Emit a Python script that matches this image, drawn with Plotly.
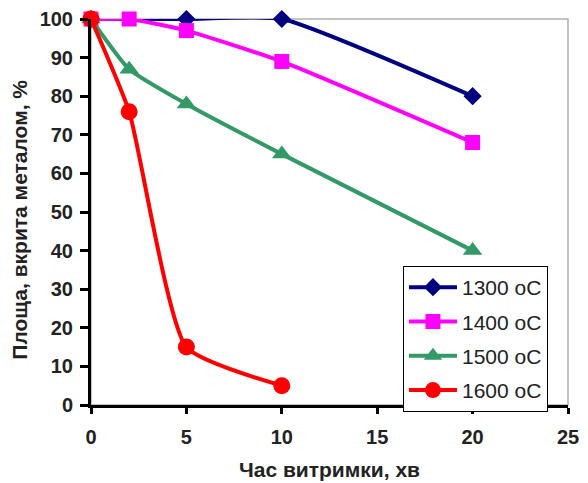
import plotly.graph_objects as go

x1300 = [0, 5, 10, 20]
y1300 = [100, 100, 100, 80]
x1400 = [0, 2, 5, 10, 20]
y1400 = [100, 100, 97, 89, 68]
x1500 = [0, 2, 5, 10, 20]
y1500 = [100, 87, 78, 65, 40]
x1600 = [0, 2, 5, 10]
y1600 = [100, 76, 15, 5]
names = ["1300 oC", "1400 oC", "1500 oC", "1600 oC"]

FONT = "Liberation Sans, Arial, sans-serif"

fig = go.Figure()
specs = [
    (x1300, y1300, names[0], "#000080", "diamond", 14),
    (x1400, y1400, names[1], "#FF00FF", "square", 15),
    (x1500, y1500, names[2], "#339966", "triangle-up", 17),
    (x1600, y1600, names[3], "#FF0000", "circle", 17),
]
for i, (xs, ys, nm, col, sym, sz) in enumerate(specs):
    fig.add_trace(go.Scatter(
        x=xs, y=ys, name=nm, mode="lines+markers", legendgroup=f"g{i}",
        line=dict(color=col, width=4, shape="spline", smoothing=0.5),
        marker=dict(symbol=sym, size=sz, color=col),
        cliponaxis=False,
    ))

fig.update_layout(
    width=588, height=483,
    margin=dict(l=91, r=20, t=19, b=78, autoexpand=False),
    paper_bgcolor="white", plot_bgcolor="white",
    font=dict(family=FONT, color="black"),
    showlegend=True,
    legend=dict(
        x=0.654, y=0.360, xanchor="left", yanchor="top",
        bordercolor="black", borderwidth=1, bgcolor="white",
        font=dict(family=FONT, size=21, color="#222"),
        itemwidth=48, tracegroupgap=4,
    ),
    shapes=[dict(type="rect", xref="paper", yref="paper", x0=0, y0=0, x1=1, y1=1,
                 line=dict(color="#b0b0b0", width=1.5), layer="below")],
)
fig.update_xaxes(
    range=[0, 25], tickvals=[0, 5, 10, 15, 20, 25],
    showgrid=False, zeroline=False, automargin=False,
    showline=True, linecolor="black", linewidth=3,
    ticks="outside", ticklen=6, tickwidth=3, tickcolor="black",
    ticklabelstandoff=6,
    tickfont=dict(family=FONT, size=20, color="#222", weight="bold"),
    title=dict(text="Час витримки, хв", font=dict(family=FONT, size=21, color="#222", weight="bold"), standoff=16),
)
fig.update_yaxes(
    range=[0, 100], tickvals=list(range(0, 101, 10)),
    showgrid=False, zeroline=False, automargin=False,
    showline=True, linecolor="black", linewidth=3,
    ticks="outside", ticklen=8, tickwidth=3, tickcolor="black",
    ticklabelstandoff=3,
    tickfont=dict(family=FONT, size=20, color="#222", weight="bold"),
)
fig.add_annotation(
    text="Площа, вкрита металом, %", textangle=-90,
    xref="paper", yref="paper", x=-0.149, y=0.48,
    xanchor="center", yanchor="middle", showarrow=False,
    font=dict(family=FONT, size=21, color="#222", weight="bold"),
)

fig.write_html("out.html")
